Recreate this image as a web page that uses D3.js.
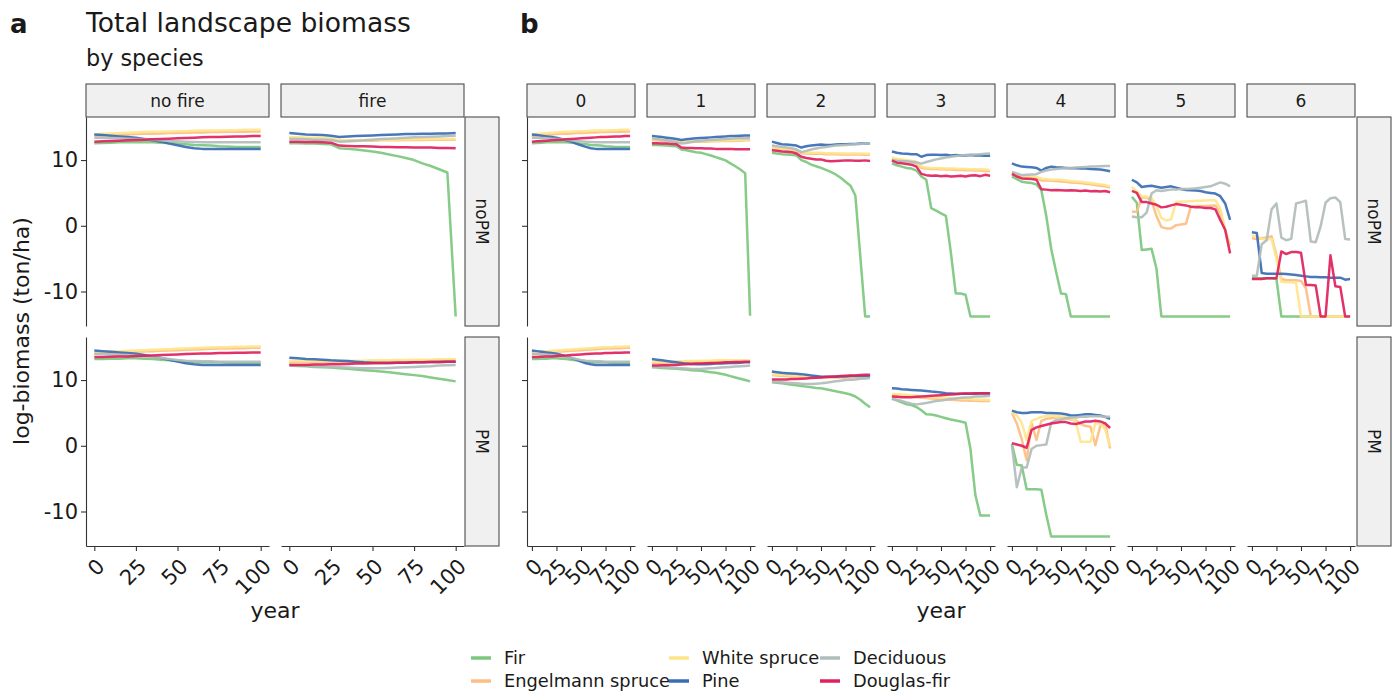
<!DOCTYPE html>
<html><head><meta charset="utf-8">
<script src="https://cdn.jsdelivr.net/npm/d3@7"></script>
<style>body{margin:0;background:#fff} text{font-family:"DejaVu Sans",sans-serif;fill:#1a1a1a}</style>
</head><body><svg id="c" width="1395" height="692"></svg>
<script>
const years = [0,5,10,15,20,25,30,35,40,45,50,55,60,65,70,75,80,85,90,95,100];
const species = ["Fir","Engelmann spruce","White spruce","Pine","Deciduous","Douglas-fir"];
const colors = ["#7cc77e","#fdbe86","#fee58c","#3a6db4","#b1bdbb","#e0215c"];
const aColumns = ["no fire","fire"];
const bColumns = ["0","1","2","3","4","5","6"];
const rowLabels = ["noPM","PM"];
const yTicks = [-10,0,10];
const xTicks = [0,25,50,75,100];

// Panel a "no fire" (identical to panel b "0")
const noFire_noPM = {
 "Fir":[12.55,12.6,12.65,12.7,12.7,12.7,12.7,12.7,12.65,12.6,12.5,12.4,12.3,12.25,12.2,12.1,12.05,12.0,12.0,12.0,12.0],
 "Engelmann spruce":[13.7,13.75,13.8,13.85,13.9,13.95,14.0,14.0,14.05,14.1,14.1,14.15,14.2,14.2,14.25,14.25,14.3,14.3,14.3,14.35,14.35],
 "White spruce":[13.9,14.0,14.05,14.1,14.15,14.2,14.25,14.3,14.3,14.35,14.4,14.4,14.45,14.5,14.5,14.5,14.55,14.55,14.6,14.6,14.6],
 "Pine":[13.9,13.8,13.7,13.6,13.5,13.4,13.2,13.0,12.8,12.5,12.25,12.0,11.8,11.7,11.7,11.7,11.7,11.7,11.7,11.7,11.7],
 "Deciduous":[13.4,13.4,13.35,13.3,13.25,13.2,13.15,13.1,13.0,12.9,12.85,12.8,12.75,12.7,12.7,12.7,12.7,12.7,12.7,12.7,12.7],
 "Douglas-fir":[12.8,12.85,12.9,12.95,13.0,13.05,13.1,13.15,13.2,13.25,13.3,13.35,13.4,13.45,13.5,13.5,13.55,13.6,13.6,13.65,13.65]
};
const noFire_PM = {
 "Fir":[13.2,13.2,13.25,13.25,13.3,13.3,13.25,13.2,13.1,13.0,12.9,12.8,12.75,12.7,12.7,12.7,12.65,12.65,12.65,12.65,12.65],
 "Engelmann spruce":[14.0,14.1,14.15,14.2,14.25,14.3,14.35,14.4,14.45,14.5,14.55,14.6,14.65,14.7,14.75,14.8,14.8,14.85,14.85,14.9,14.9],
 "White spruce":[14.2,14.3,14.35,14.4,14.45,14.5,14.55,14.6,14.65,14.7,14.75,14.8,14.85,14.9,14.95,15.0,15.0,15.05,15.05,15.1,15.1],
 "Pine":[14.5,14.4,14.3,14.2,14.1,14.0,13.8,13.6,13.35,13.1,12.8,12.55,12.4,12.3,12.3,12.3,12.3,12.3,12.3,12.3,12.3],
 "Deciduous":[14.0,13.95,13.9,13.85,13.8,13.7,13.6,13.5,13.35,13.2,13.05,12.95,12.9,12.85,12.85,12.8,12.8,12.8,12.8,12.8,12.8],
 "Douglas-fir":[13.5,13.5,13.55,13.6,13.6,13.65,13.7,13.75,13.8,13.85,13.9,13.95,14.0,14.05,14.05,14.1,14.1,14.15,14.15,14.2,14.2]
};
const fire_noPM = {
 "Fir":[12.55,12.55,12.5,12.5,12.45,12.4,11.8,11.7,11.6,11.45,11.3,11.1,10.85,10.6,10.3,10.0,9.5,9.1,8.6,8.1,-13.8],
 "Engelmann spruce":[13.4,13.35,13.3,13.3,13.25,13.2,12.9,12.9,12.9,12.95,12.95,13.0,13.0,13.0,13.05,13.05,13.05,13.1,13.1,13.1,13.1],
 "White spruce":[13.5,13.45,13.4,13.4,13.35,13.3,13.0,13.0,13.0,13.05,13.05,13.1,13.1,13.1,13.15,13.15,13.15,13.2,13.2,13.2,13.2],
 "Pine":[14.1,14.0,13.9,13.85,13.8,13.7,13.5,13.6,13.65,13.7,13.75,13.8,13.85,13.9,13.95,13.95,14.0,14.0,14.05,14.05,14.1],
 "Deciduous":[13.2,13.2,13.15,13.1,13.1,13.05,12.8,12.85,12.95,13.0,13.1,13.2,13.25,13.3,13.4,13.45,13.5,13.55,13.6,13.65,13.7],
 "Douglas-fir":[12.8,12.8,12.75,12.75,12.7,12.65,12.2,12.15,12.1,12.1,12.05,12.0,12.0,11.95,11.95,11.9,11.9,11.9,11.85,11.85,11.8]
};
const fire_PM = {
 "Fir":[12.2,12.15,12.1,12.0,11.95,11.9,11.8,11.7,11.6,11.5,11.4,11.3,11.2,11.05,10.9,10.75,10.6,10.4,10.2,10.0,9.8],
 "Engelmann spruce":[12.7,12.7,12.7,12.7,12.75,12.75,12.75,12.8,12.8,12.8,12.85,12.85,12.85,12.9,12.9,12.9,12.95,12.95,12.95,13.0,13.0],
 "White spruce":[12.9,12.9,12.9,12.9,12.9,12.9,12.9,12.9,12.95,12.95,13.0,13.0,13.0,13.05,13.05,13.1,13.1,13.1,13.15,13.15,13.2],
 "Pine":[13.4,13.3,13.2,13.15,13.1,13.0,12.95,12.9,12.8,12.7,12.65,12.6,12.6,12.65,12.65,12.7,12.7,12.75,12.75,12.8,12.8],
 "Deciduous":[12.3,12.25,12.2,12.1,12.05,12.0,11.95,11.9,11.85,11.8,11.8,11.8,11.85,11.9,11.95,12.0,12.05,12.1,12.2,12.25,12.3],
 "Douglas-fir":[12.3,12.3,12.3,12.35,12.35,12.4,12.4,12.45,12.5,12.5,12.55,12.6,12.6,12.65,12.65,12.7,12.7,12.75,12.75,12.8,12.8]
};
const b1_noPM = {
 "Fir":[12.3,12.3,12.25,12.2,12.15,12.1,11.6,11.5,11.35,11.2,11.1,10.9,10.7,10.45,10.2,9.95,9.5,9.05,8.55,8.0,-13.7],
 "Engelmann spruce":[13.05,13.0,12.95,12.9,12.85,12.8,12.75,12.75,12.75,12.8,12.8,12.8,12.85,12.85,12.9,12.9,12.9,12.95,12.95,13.0,13.0],
 "White spruce":[13.2,13.15,13.1,13.05,13.0,12.95,12.9,12.85,12.85,12.9,12.9,12.9,12.95,12.95,13.0,13.0,13.0,13.05,13.05,13.1,13.1],
 "Pine":[13.65,13.6,13.5,13.4,13.3,13.2,13.05,13.15,13.25,13.3,13.35,13.4,13.45,13.5,13.55,13.6,13.65,13.65,13.7,13.75,13.75],
 "Deciduous":[13.3,13.2,13.1,13.0,12.85,12.7,12.5,12.6,12.75,12.85,12.95,13.0,13.05,13.1,13.15,13.2,13.25,13.3,13.3,13.3,13.3],
 "Douglas-fir":[12.55,12.55,12.5,12.5,12.45,12.4,11.9,11.85,11.85,11.8,11.8,11.75,11.75,11.7,11.7,11.7,11.7,11.65,11.65,11.65,11.65]
};
const b1_PM = {
 "Fir":[11.95,11.9,11.85,11.8,11.75,11.7,11.65,11.6,11.5,11.45,11.4,11.3,11.2,11.1,10.95,10.8,10.6,10.4,10.2,10.0,9.8],
 "Engelmann spruce":[12.6,12.6,12.65,12.65,12.7,12.7,12.7,12.75,12.75,12.75,12.8,12.8,12.8,12.8,12.85,12.85,12.85,12.85,12.85,12.85,12.85],
 "White spruce":[12.8,12.8,12.8,12.8,12.85,12.85,12.85,12.9,12.9,12.9,12.95,12.95,12.95,13.0,13.0,13.0,13.0,13.0,13.0,13.0,13.0],
 "Pine":[13.2,13.1,13.0,12.9,12.8,12.7,12.6,12.5,12.45,12.4,12.4,12.4,12.45,12.5,12.5,12.55,12.6,12.6,12.65,12.7,12.7],
 "Deciduous":[12.1,12.05,12.0,11.95,11.9,11.85,11.8,11.75,11.7,11.7,11.7,11.75,11.8,11.85,11.9,11.95,12.0,12.05,12.1,12.15,12.2],
 "Douglas-fir":[12.2,12.2,12.25,12.25,12.3,12.3,12.35,12.4,12.45,12.5,12.5,12.55,12.6,12.6,12.65,12.7,12.7,12.75,12.75,12.8,12.8]
};
const b2_noPM = {
 "Fir":[11.1,11.0,10.9,10.85,10.8,10.7,10.0,9.7,9.3,9.05,8.8,8.5,8.2,7.8,7.3,6.7,6.1,4.6,-4.6,-13.8,-13.8],
 "Engelmann spruce":[11.75,11.65,11.55,11.5,11.45,11.35,11.05,11.0,10.95,10.95,10.95,10.9,10.9,10.9,10.85,10.85,10.85,10.85,10.85,10.8,10.8],
 "White spruce":[11.9,11.8,11.7,11.65,11.6,11.5,11.2,11.15,11.1,11.1,11.1,11.05,11.05,11.05,11.0,11.0,11.0,11.0,11.0,10.95,10.95],
 "Pine":[12.8,12.6,12.4,12.35,12.3,12.2,11.9,12.1,12.2,12.3,12.35,12.3,12.3,12.35,12.4,12.4,12.45,12.45,12.5,12.5,12.55],
 "Deciduous":[12.2,12.1,12.0,11.9,11.8,11.6,11.2,11.4,11.6,11.75,11.9,12.0,12.1,12.2,12.25,12.3,12.35,12.4,12.45,12.5,12.55],
 "Douglas-fir":[11.5,11.4,11.3,11.25,11.2,11.0,10.5,10.3,10.2,10.1,10.1,9.9,9.8,9.85,9.9,9.95,9.95,9.9,9.9,9.95,9.85]
};
const b2_PM = {
 "Fir":[9.65,9.6,9.5,9.4,9.3,9.2,9.1,9.0,8.9,8.8,8.75,8.6,8.45,8.3,8.15,8.0,7.8,7.5,7.0,6.4,5.85],
 "Engelmann spruce":[10.75,10.7,10.65,10.6,10.55,10.55,10.5,10.45,10.4,10.4,10.4,10.4,10.4,10.4,10.4,10.4,10.4,10.4,10.4,10.4,10.4],
 "White spruce":[10.9,10.85,10.8,10.75,10.7,10.7,10.65,10.6,10.55,10.5,10.5,10.5,10.5,10.5,10.5,10.5,10.5,10.5,10.5,10.5,10.5],
 "Pine":[11.3,11.2,11.1,11.05,11.0,10.95,10.9,10.8,10.7,10.6,10.5,10.5,10.5,10.5,10.55,10.55,10.6,10.6,10.6,10.6,10.6],
 "Deciduous":[9.75,9.7,9.65,9.6,9.55,9.5,9.45,9.4,9.4,9.45,9.5,9.6,9.7,9.8,9.9,10.0,10.05,10.1,10.2,10.25,10.3],
 "Douglas-fir":[10.1,10.1,10.1,10.1,10.15,10.15,10.2,10.25,10.3,10.35,10.4,10.45,10.5,10.55,10.6,10.65,10.7,10.7,10.75,10.8,10.8]
};
const b3_noPM = {
 "Fir":[9.5,9.2,9.0,8.8,8.7,8.4,7.5,7.0,2.7,2.3,1.9,1.5,-4.0,-10.3,-10.3,-10.5,-13.8,-13.8,-13.8,-13.8,-13.8],
 "Engelmann spruce":[10.2,10.0,9.9,9.8,9.7,9.5,8.8,8.7,8.65,8.65,8.6,8.55,8.55,8.5,8.5,8.45,8.45,8.4,8.4,8.35,8.3],
 "White spruce":[10.4,10.2,10.1,10.0,9.9,9.7,9.0,8.85,8.8,8.8,8.75,8.7,8.7,8.7,8.65,8.65,8.6,8.6,8.6,8.55,8.5],
 "Pine":[11.3,11.1,11.0,10.95,10.9,10.9,10.5,10.75,10.8,10.8,10.75,10.8,10.7,10.75,10.7,10.7,10.75,10.7,10.7,10.65,10.65],
 "Deciduous":[10.0,9.9,9.85,9.8,9.75,9.65,9.45,9.7,9.9,10.1,10.25,10.4,10.5,10.6,10.7,10.75,10.8,10.85,10.9,10.95,11.0],
 "Douglas-fir":[9.9,9.6,9.5,9.4,9.3,9.0,7.9,7.7,7.6,7.65,7.55,7.6,7.5,7.55,7.6,7.5,7.65,7.7,7.55,7.75,7.6]
};
const b3_PM = {
 "Fir":[7.15,6.9,6.6,6.3,6.2,5.9,5.4,4.8,4.75,4.6,4.4,4.2,4.0,3.85,3.7,3.5,-0.5,-7.5,-10.6,-10.6,-10.6],
 "Engelmann spruce":[7.7,7.65,7.6,7.55,7.5,7.4,7.3,7.25,7.2,7.15,7.1,7.05,7.0,6.95,6.9,6.9,6.85,6.85,6.8,6.8,6.8],
 "White spruce":[7.9,7.85,7.8,7.75,7.7,7.6,7.5,7.45,7.4,7.35,7.3,7.3,7.25,7.2,7.15,7.1,7.1,7.05,7.0,7.0,7.0],
 "Pine":[8.75,8.7,8.6,8.55,8.5,8.45,8.4,8.35,8.25,8.2,8.1,8.0,7.95,7.9,7.9,7.9,7.9,7.9,7.95,7.95,7.95],
 "Deciduous":[7.2,7.0,6.8,6.6,6.4,6.3,6.4,6.5,6.65,6.8,6.9,7.0,7.1,7.2,7.3,7.35,7.4,7.5,7.5,7.55,7.6],
 "Douglas-fir":[7.5,7.45,7.4,7.4,7.4,7.45,7.5,7.55,7.6,7.65,7.7,7.75,7.8,7.85,7.9,7.95,7.95,8.0,8.0,8.0,8.0]
};
const b4_noPM = {
 "Fir":[7.5,7.1,6.7,6.6,6.5,6.3,5.4,1.5,-3.5,-7.0,-10.3,-10.4,-13.8,-13.8,-13.8,-13.8,-13.8,-13.8,-13.8,-13.8,-13.8],
 "Engelmann spruce":[7.8,7.6,7.4,7.35,7.3,7.2,6.9,6.9,6.85,6.8,6.75,6.7,6.6,6.55,6.5,6.4,6.3,6.2,6.1,6.0,5.8],
 "White spruce":[8.0,7.8,7.6,7.55,7.5,7.4,7.2,7.1,7.0,7.0,7.0,6.9,6.8,6.75,6.7,6.6,6.5,6.4,6.3,6.2,5.95],
 "Pine":[9.5,9.2,9.0,8.95,8.9,8.8,8.4,8.8,9.0,8.9,8.85,8.8,8.75,8.75,8.7,8.7,8.65,8.6,8.55,8.45,8.3],
 "Deciduous":[8.2,7.95,7.7,7.75,7.8,7.85,8.2,8.4,8.55,8.65,8.7,8.75,8.8,8.85,8.9,8.95,9.0,9.0,9.05,9.1,9.1],
 "Douglas-fir":[7.9,7.5,7.2,7.15,7.1,7.0,5.55,5.5,5.4,5.45,5.4,5.35,5.4,5.35,5.3,5.35,5.25,5.3,5.2,5.3,5.1]
};
const b4_PM = {
 "Fir":[0.3,-2.9,-3.0,-6.6,-6.6,-6.6,-6.7,-10.5,-13.8,-13.8,-13.8,-13.8,-13.8,-13.8,-13.8,-13.8,-13.8,-13.8,-13.8,-13.8,-13.8],
 "Engelmann spruce":[5.0,3.4,1.0,-2.2,3.4,0.9,3.8,4.1,4.2,4.3,4.3,4.2,4.0,3.9,3.3,3.0,2.9,0.1,3.0,3.4,-0.4],
 "White spruce":[5.1,4.6,3.5,0.9,3.8,4.1,4.4,4.5,4.6,4.5,4.5,4.4,4.3,3.7,0.6,0.6,0.6,3.4,3.4,2.5,-0.1],
 "Pine":[5.35,5.1,5.0,5.0,5.1,5.1,5.1,5.0,5.0,4.95,4.9,4.8,4.6,4.6,4.7,4.8,4.8,4.7,4.6,4.4,4.1],
 "Deciduous":[0.1,-6.3,-3.3,-3.3,-0.5,0.0,0.1,0.2,3.5,3.9,4.0,4.2,4.3,4.3,4.4,4.4,4.5,4.5,4.5,4.4,4.4],
 "Douglas-fir":[0.4,0.2,0.0,-0.3,2.4,2.8,3.0,3.2,3.4,3.5,3.6,3.6,3.4,3.3,3.5,3.7,3.7,3.8,3.7,3.4,2.7]
};
const b5_noPM = {
 "Fir":[4.4,3.5,-3.7,-3.6,-3.5,-6.5,-13.8,-13.8,-13.8,-13.8,-13.8,-13.8,-13.8,-13.8,-13.8,-13.8,-13.8,-13.8,-13.8,-13.8,-13.8],
 "Engelmann spruce":[2.15,2.15,4.3,4.3,3.8,1.5,-0.2,-0.4,-0.4,0.1,0.2,0.3,2.9,3.0,3.0,3.0,3.05,3.1,2.0,-0.7,-3.0],
 "White spruce":[5.95,5.2,4.5,4.4,4.3,3.0,1.2,0.8,1.0,3.6,3.7,3.7,3.75,3.8,3.8,3.85,3.9,3.9,2.6,-0.6,-3.0],
 "Pine":[7.0,6.6,5.9,6.0,6.1,5.95,5.8,5.9,6.0,5.8,5.6,5.45,5.4,5.35,5.3,5.1,5.0,4.9,4.5,3.4,0.9],
 "Deciduous":[1.4,1.3,1.3,2.0,4.9,5.4,5.3,5.4,5.5,5.5,5.6,5.6,5.65,5.7,5.8,5.9,6.0,6.3,6.6,6.4,6.0],
 "Douglas-fir":[5.3,5.0,3.6,3.6,3.4,3.2,2.8,2.9,3.1,3.3,3.2,3.1,2.9,2.8,2.8,2.7,2.7,2.5,0.9,-0.6,-4.2]
};
const b6_noPM = {
 "Fir":[-8.0,-8.0,-8.0,-8.0,-8.0,-8.1,-13.8,-13.8,-13.8,-13.8,-13.8,-13.8,-13.8,-13.8,-13.8,-13.8,-13.8,-13.8,-13.8,-13.8,-13.8],
 "Engelmann spruce":[-1.9,-2.0,-1.9,-1.8,-1.6,-4.5,-8.1,-8.3,-8.3,-8.3,-8.4,-9.5,-13.8,-13.8,-13.8,-13.8,-13.8,-13.8,-13.8,-13.8,-13.8],
 "White spruce":[-1.5,-1.6,-2.0,-2.1,-2.0,-5.0,-8.5,-8.6,-8.6,-8.7,-13.8,-13.8,-13.8,-13.8,-13.8,-13.8,-13.8,-13.8,-13.8,-13.8,-13.8],
 "Pine":[-1.0,-1.1,-7.2,-7.3,-7.3,-7.3,-7.3,-7.35,-7.4,-7.5,-7.6,-7.7,-7.8,-7.8,-7.85,-7.85,-7.9,-7.9,-7.9,-8.2,-8.1],
 "Deciduous":[-7.6,-7.6,-2.8,-2.2,2.5,3.4,-1.8,-2.2,-2.0,3.4,3.6,3.8,-2.4,-2.5,-0.1,3.5,4.2,4.3,3.6,-2.0,-2.1],
 "Douglas-fir":[-8.1,-8.1,-8.1,-8.0,-8.0,-8.0,-3.9,-4.3,-4.0,-4.0,-4.1,-9.0,-9.0,-9.1,-13.8,-13.8,-4.5,-9.2,-9.3,-13.8,-13.8]
};

const aData = [[noFire_noPM, fire_noPM],[noFire_PM, fire_PM]];
const bData = [[noFire_noPM, b1_noPM, b2_noPM, b3_noPM, b4_noPM, b5_noPM, b6_noPM],
               [noFire_PM, b1_PM, b2_PM, b3_PM, b4_PM, null, null]];

const svg = d3.select("#c");
const yDomain = [-15.25, 16.55];
const rowY = [117, 337], rowH = 209;
const stripY = 84, stripH = 33;
const tickFont = 21;

function styleAxis(g){
  g.selectAll("path,line").attr("stroke","#333").attr("stroke-width",1.1);
}

function panel(x0, w, r, d, leftAxis, leftLabels){
  const y0 = rowY[r];
  const x = d3.scaleLinear().domain([-5,105]).range([x0, x0+w]);
  const y = d3.scaleLinear().domain(yDomain).range([y0+rowH, y0]);
  const g = svg.append("g");
  if (d) {
    const line = d3.line().x(p=>x(p[0])).y(p=>y(p[1]));
    species.forEach((sp,i)=>{
      const pts = years.map((yr,j)=>[yr, d[sp][j]]);
      g.append("path").datum(pts).attr("d", line)
        .attr("fill","none").attr("stroke", colors[i]).attr("stroke-width",2.5)
        .attr("stroke-linejoin","round").attr("stroke-opacity",0.92);
    });
  }
  if (leftAxis) {
    const ax = g.append("g").attr("transform",`translate(${x0},0)`)
      .call(d3.axisLeft(y).tickValues(yTicks).tickSize(5).tickSizeOuter(0).tickPadding(3)
        .tickFormat(leftLabels ? (v=>String(v)) : (()=>"")));
    styleAxis(ax);
    ax.selectAll("text").attr("font-size",tickFont).attr("fill","#1a1a1a").attr("font-family","DejaVu Sans");
  }
  if (r === 1) {
    const ax = g.append("g").attr("transform",`translate(0,${y0+rowH})`)
      .call(d3.axisBottom(x).tickValues(xTicks).tickSize(5).tickSizeOuter(0).tickFormat(()=>""));
    styleAxis(ax);
    xTicks.forEach(v=>{
      g.append("text").attr("transform",`translate(${x(v)+1},${y0+rowH+11}) rotate(-45)`)
        .attr("text-anchor","end").attr("dy","0.72em").attr("font-size",tickFont).text(String(v));
    });
  }
}

function topStrip(x0, w, label){
  svg.append("rect").attr("x",x0).attr("y",stripY).attr("width",w).attr("height",stripH)
    .attr("fill","#f0f0f0").attr("stroke","#4d4d4d").attr("stroke-width",1.1);
  svg.append("text").attr("x",x0+w/2).attr("y",stripY+stripH/2).attr("dy","0.36em")
    .attr("text-anchor","middle").attr("font-size",17).text(label);
}
function rightStrip(x0, r, label){
  const w = 34;
  svg.append("rect").attr("x",x0).attr("y",rowY[r]).attr("width",w).attr("height",rowH)
    .attr("fill","#f0f0f0").attr("stroke","#4d4d4d").attr("stroke-width",1.1);
  svg.append("text").attr("transform",`translate(${x0+w/2},${rowY[r]+rowH/2}) rotate(90)`)
    .attr("dy","0.36em").attr("text-anchor","middle").attr("font-size",17).text(label);
}

// Panel a
const aX = [86, 281], aW = 183;
aColumns.forEach((c,i)=>topStrip(aX[i], aW, c));
rowLabels.forEach((r,ri)=>{
  aColumns.forEach((c,ci)=>panel(aX[ci], aW, ri, aData[ri][ci], ci===0, true));
  rightStrip(465, ri, r);
});
// Panel b
const bW = 108;
const bX = bColumns.map((c,i)=>527+120*i);
bColumns.forEach((c,i)=>topStrip(bX[i], bW, c));
rowLabels.forEach((r,ri)=>{
  bColumns.forEach((c,ci)=>panel(bX[ci], bW, ri, bData[ri][ci], ci===0, false));
  rightStrip(1357, ri, r);
});

// titles
svg.append("text").attr("x",10).attr("y",33).attr("font-size",26).attr("font-weight","bold").text("a");
svg.append("text").attr("x",520).attr("y",33).attr("font-size",26).attr("font-weight","bold").text("b");
svg.append("text").attr("x",86).attr("y",32).attr("font-size",26.6).text("Total landscape biomass");
svg.append("text").attr("x",86).attr("y",66).attr("font-size",22.3).text("by species");
// axis titles
svg.append("text").attr("transform","translate(29,331) rotate(-90)").attr("text-anchor","middle").attr("font-size",22).text("log-biomass (ton/ha)");
svg.append("text").attr("x",275).attr("y",618).attr("text-anchor","middle").attr("font-size",22).text("year");
svg.append("text").attr("x",941).attr("y",618).attr("text-anchor","middle").attr("font-size",22).text("year");

// legend
const legCols = [471, 669, 820], legRows = [658, 681];
species.forEach((sp,i)=>{
  const cx = legCols[Math.floor(i/2)], cy = legRows[i%2];
  svg.append("line").attr("x1",cx).attr("x2",cx+20).attr("y1",cy).attr("y2",cy)
    .attr("stroke",colors[i]).attr("stroke-width",3.5);
  svg.append("text").attr("x",cx+33).attr("y",cy).attr("dy","0.36em").attr("font-size",17.8).text(sp);
});
</script></body></html>
